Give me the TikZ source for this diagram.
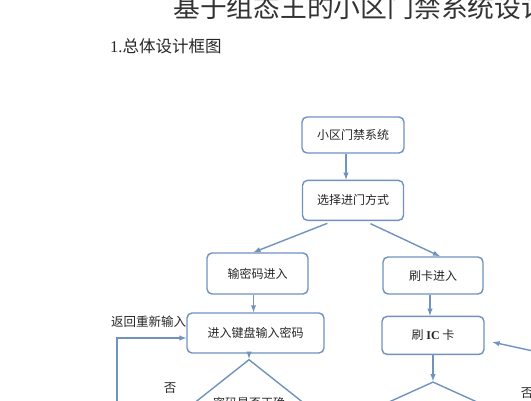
\documentclass[tikz,border=0pt]{standalone}
\usepackage{fontspec}
\setmainfont{Noto Sans CJK SC}
\newfontfamily\latin{Liberation Serif}
\usetikzlibrary{positioning,shapes.geometric}
\definecolor{flowblue}{RGB}{112,146,190}

\begin{document}
\begin{tikzpicture}[x=1pt,y=-1pt,>=latex,
	box/.style={draw=flowblue,line width=1.4pt,rounded corners=5pt,fill=white,minimum height=38pt,inner sep=0pt,font=\fontsize{12}{14}\selectfont,text=black!85},
	check/.style={diamond,draw=flowblue,line width=1.4pt,inner sep=1pt,font=\fontsize{12}{14}\selectfont,text=black!85},
	flow/.style={->,draw=flowblue,line width=1.4pt},
	note/.style={inner sep=0pt,font=\fontsize{12.5}{14}\selectfont,text=black!85}]
	\useasboundingbox (0,0) rectangle (531,400);
	\clip (0,0) rectangle (531,400);
	\node [anchor=west,inner sep=0pt,font=\fontsize{26.8}{28}\selectfont,text=black!80] at (173,7) (title) {基于组态王的小区门禁系统设计};
	\node [anchor=west,inner sep=0pt,font=\fontsize{16.5}{18}\selectfont,text=black!85] at (110,46) (section) {{\latin 1.}总体设计框图};
	\node [box,minimum width=102pt,minimum height=36pt] at (353,135) (sys) {小区门禁系统};
	\node [box,minimum width=101pt,minimum height=40pt,below=26pt of sys] (mode) {选择进门方式};
	\node [box,minimum width=101pt,minimum height=41pt] at (257.5,273.5) (pwd) {输密码进入};
	\node [box,minimum width=100pt,minimum height=37pt] at (433,275.5) (card) {刷卡进入};
	\node [box,minimum width=137pt,minimum height=40pt] at (255.5,333) (keyin) {进入键盘输入密码};
	\node [box,minimum width=102pt,below=21pt of card] (swipe) {刷 {\latin\bfseries IC} 卡};
	\node [check,minimum width=110pt,minimum height=50pt] at (249,403) (chkpwd) {密码是否正确};
	\node [check,minimum width=132pt,minimum height=60pt,below=26pt of swipe] (chkcard) {};
	\node [note,anchor=west] at (111,322) (retry) {返回重新输入};
	\node [note] at (170,388) (nopwd) {否};
	\node [note] at (527,393) (nocard) {否};
	\coordinate (loopbot) at (117,402);
	\coordinate (cardret) at (533,351);
	\draw [flow] ([xshift=-7pt]sys.south) -- ([xshift=-7pt]mode.north);
	\draw [flow,shorten <=6pt] ([xshift=-20pt]mode.south) -- ([xshift=-4pt]pwd.north);
	\draw [flow,shorten <=6pt] ([xshift=12pt]mode.south) -- ([xshift=7pt]card.north);
	\draw [flow] ([xshift=-4pt]pwd.south) -- ([xshift=-4pt]pwd.south |- keyin.north);
	\draw [flow] ([xshift=-3pt]card.south) -- ([xshift=-3pt]swipe.north);
	\draw [flow] (keyin.south -| chkpwd.north) -- (chkpwd.north);
	\draw [flow] (swipe.south -| chkcard.north) -- (chkcard.north);
	\draw [flow] (loopbot) |- ([yshift=-5pt]keyin.west);
	\draw [flow,shorten >=8pt] (cardret) -- ([yshift=-5pt]swipe.east);
\end{tikzpicture}
\end{document}
